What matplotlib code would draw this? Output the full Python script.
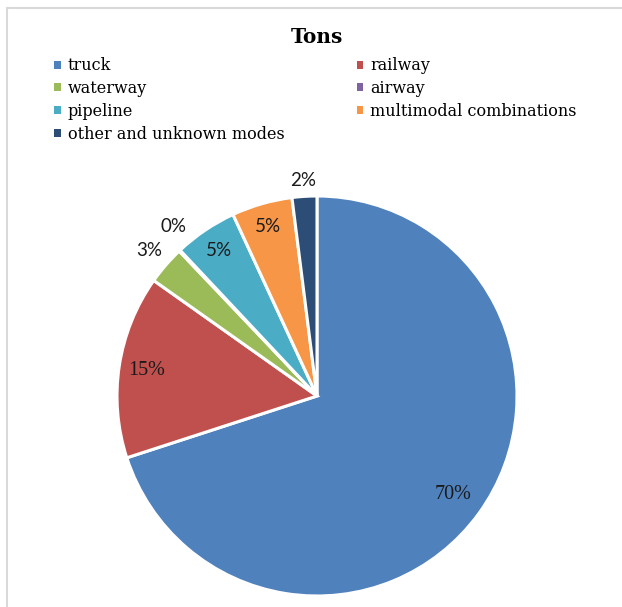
import numpy as np
import matplotlib.pyplot as plt
from matplotlib.patches import Patch, Rectangle

# shares of tonnage by mode (percent)
modes = ['truck', 'railway', 'waterway', 'airway', 'pipeline',
         'multimodal combinations', 'other and unknown modes']
shares = [70.0, 14.8, 3.1, 0.1, 5.1, 4.9, 2.0]
colors = ['#4F81BD', '#C0504D', '#9BBB59', '#8064A2', '#4BACC6',
          '#F79646', '#2C4D75']
# label radius (fraction of pie radius), angle nudge (deg) and font per wedge
label_r = [0.84, 0.86, 1.11, 1.11, 0.88, 0.88, 1.08]
label_nudge = [0, 0, 0, -3, 0, 0, 0]
label_serif = [True, True, False, False, False, False, False]

W, H = 622, 607
fig = plt.figure(figsize=(W / 100, H / 100), dpi=100)

# thin grey frame (chart area border)
fig.add_artist(Rectangle((7 / W, -0.1), 1.2, (H - 8) / H + 0.1, transform=fig.transFigure,
                         fill=False, edgecolor='#D9D9D9', linewidth=1.5))

ax = fig.add_axes([117 / W, 11 / H, 400 / W, 400 / H])
wedges, _ = ax.pie(shares, colors=colors, startangle=90, counterclock=False,
                   radius=1.0, wedgeprops=dict(edgecolor='white', linewidth=2.2))
ax.set_xlim(-1, 1)
ax.set_ylim(-1, 1)
ax.set_aspect('equal')
ax.axis('off')

for w, v, r, nd, serif in zip(wedges, shares, label_r, label_nudge, label_serif):
    ang = np.deg2rad((w.theta1 + w.theta2) / 2 + nd)
    if serif:
        fam, fs = ['Liberation Serif'], 14.5
    else:
        fam, fs = ['Lato', 'DejaVu Sans'], 13.5
    ax.text(r * np.cos(ang), r * np.sin(ang), f'{round(v):.0f}%',
            ha='center', va='center', fontsize=fs, family=fam, color='#1a1a1a')

fig.text(317 / W, 1 - 37 / H, 'Tons', ha='center', va='center',
         fontsize=14.5, fontweight='bold', family='DejaVu Serif')

# legend filled row-wise like the original: reorder for column-major fill
order = [0, 2, 4, 6, 1, 3, 5]
handles = [Patch(facecolor=colors[i], edgecolor='none') for i in order]
labels = [modes[i] for i in order]
fig.legend(handles, labels, ncol=2, loc='upper left',
           bbox_to_anchor=(40 / W, 1 - 43 / H), frameon=False,
           handlelength=0.4, handleheight=0.4, handletextpad=0.45,
           columnspacing=4.5, labelspacing=0.36,
           prop={'family': 'DejaVu Serif', 'size': 11.5})

fig.savefig('out.png', dpi=100)
